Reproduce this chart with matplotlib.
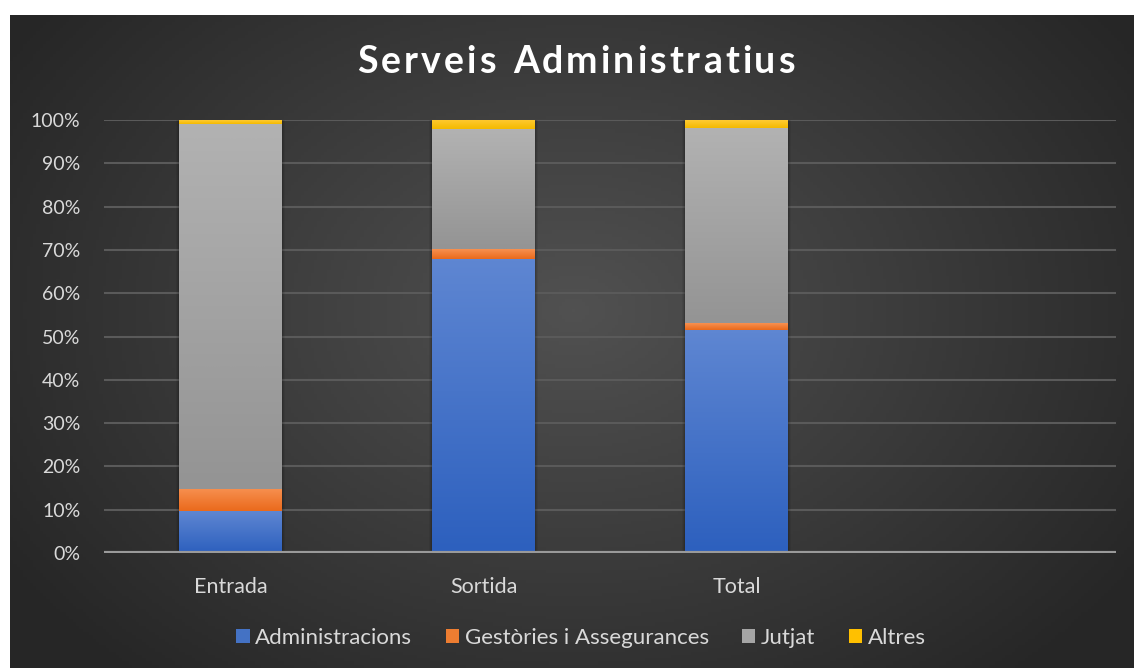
import numpy as np
import matplotlib
matplotlib.use("Agg")
import matplotlib.pyplot as plt
from matplotlib.patches import Rectangle, Patch
from matplotlib.colors import LinearSegmentedColormap, to_rgb

plt.rcParams['font.family'] = ['Lato', 'DejaVu Sans']

categories = ["Entrada", "Sortida", "Total", ""]
series_names = ["Administracions", "Gestòries i Assegurances", "Jutjat", "Altres"]
administracions = [9.6, 67.9, 51.5]
gestories = [5.2, 2.3, 1.6]
jutjat = [84.3, 27.7, 45.1]
altres = [0.9, 2.1, 1.8]
yticks = [0, 10, 20, 30, 40, 50, 60, 70, 80, 90, 100]
ytick_labels = [f"{v}%" for v in yticks]
title = "Serveis Administratius"

series = [administracions, gestories, jutjat, altres]
# (top colour, bottom colour) for each series
colors = [("#5e86d2", "#2d60be"),
          ("#f79050", "#ea6a1c"),
          ("#b2b2b2", "#949494"),
          ("#ffca33", "#f4ba00")]
legend_colors = ["#4472c4", "#ed7d31", "#a5a5a5", "#ffc000"]

W, H = 1134, 668
fig = plt.figure(figsize=(W / 100, H / 100), dpi=100, facecolor="white")

# background with radial gradient
bg = fig.add_axes([10 / W, 0, 1124 / W, 653 / H])
bg.set_axis_off()
ny, nx = 200, 340
yy, xx = np.mgrid[0:ny, 0:nx]
cx, cy = nx * 0.5, ny * 0.45
r = np.sqrt(((xx - cx) / (nx * 0.6)) ** 2 + ((yy - cy) / (ny * 0.75)) ** 2)
r = np.clip(r, 0, 1)
c_in = np.array(to_rgb("#515151"))
c_out = np.array(to_rgb("#262626"))
img = c_in[None, None, :] * (1 - r[..., None]) + c_out[None, None, :] * r[..., None]
bg.imshow(img, extent=[0, 1, 0, 1], aspect="auto", origin="upper")
bg.set_xlim(0, 1)
bg.set_ylim(0, 1)

ax = fig.add_axes([104 / W, (H - 553) / H, (1116 - 104) / W, (553 - 120) / H])
ax.patch.set_alpha(0)
for s in ax.spines.values():
    s.set_visible(False)

x = np.arange(len(categories))
width = 0.405
grad = np.linspace(0, 1, 64)[:, None]
for i in range(3):
    bottom = 0
    xl = x[i] - width / 2
    # shadow
    for k, a in enumerate([0.10, 0.08, 0.06]):
        pad = 0.004 * (k + 1)
        ax.add_patch(Rectangle((xl - pad, -0.3), width + 2 * pad, 100.3 + 0.9 * (k + 1),
                               facecolor="black", alpha=a, edgecolor="none", zorder=2))
    for s_idx, vals in enumerate(series):
        v = vals[i]
        cmap = LinearSegmentedColormap.from_list("g", [colors[s_idx][0], colors[s_idx][1]])
        ax.imshow(grad, cmap=cmap, extent=[xl, xl + width, bottom, bottom + v],
                  aspect="auto", origin="upper", zorder=3, interpolation="bilinear")
        bottom += v

ax.set_xlim(-0.5, len(categories) - 0.5)
ax.set_ylim(0, 100)
ax.set_yticks(yticks)
ax.set_yticklabels(ytick_labels)
ax.set_xticks(x[:3])
ax.set_xticklabels(categories[:3])
ax.tick_params(axis="both", length=0, colors="#d9d9d9")
ax.tick_params(axis="y", pad=17, labelsize=14)
ax.tick_params(axis="x", pad=17, labelsize=15.5)
for yv in yticks[1:]:
    ax.axhline(yv, color="#5a5a5a", lw=1.5, zorder=1)
ax.axhline(0, color="#9a9a9a", lw=3, zorder=4)

# letter-spaced title
renderer = fig.canvas.get_renderer()
tfs = 27
spacing = 3.0  # px between letters
pieces = []
total_w = 0
for ch in title:
    t = fig.text(0, 0, ch if ch != " " else "n", fontsize=tfs, fontweight="bold", color="white")
    w = t.get_window_extent(renderer).width
    if ch == " ":
        w *= 0.55
    t.remove()
    pieces.append((ch, w))
    total_w += w + spacing
total_w -= spacing
xpos = 576 - total_w / 2
for ch, w in pieces:
    if ch != " ":
        fig.text(xpos / W, (H - 62) / H, ch, fontsize=tfs, fontweight="bold", color="white",
                 ha="left", va="center")
    xpos += w + spacing

handles = [Patch(facecolor=c, edgecolor="none") for c in legend_colors]
leg = fig.legend(handles, series_names, loc="center", bbox_to_anchor=(581 / W, (H - 638) / H),
                 ncol=4, frameon=False, fontsize=16, labelcolor="#d9d9d9",
                 handlelength=0.6, handleheight=0.6, handletextpad=0.25, columnspacing=1.5)

fig.savefig("out.png", dpi=100, facecolor="white")
